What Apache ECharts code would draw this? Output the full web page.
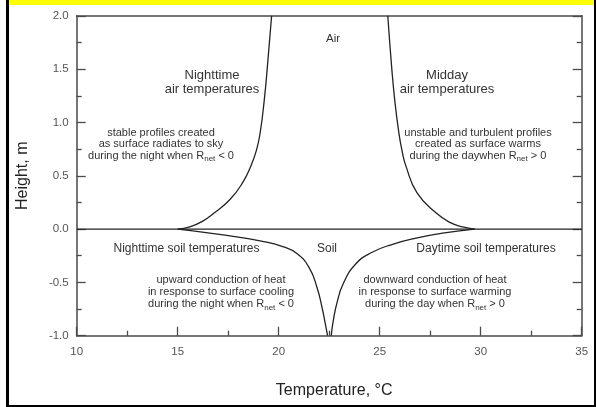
<!DOCTYPE html>
<html>
<head>
<meta charset="utf-8">
<script src="https://cdn.jsdelivr.net/npm/echarts@6/dist/echarts.min.js"></script>
<style>
html,body{margin:0;padding:0;background:#fff;}
#c{width:596px;height:407px;}
</style>
</head>
<body>
<div id="c"></div>
<script>
// ---- data (temperature °C, height m) ----
var nightAir = [[15.0,0],[15.6,0.02],[16.2,0.07],[16.8,0.15],[17.6,0.28],[18.2,0.43],[18.62,0.59],[18.9,0.74],[19.08,0.9],[19.28,1.2],[19.43,1.5],[19.65,2.0]];
var middayAir = [[29.7,0],[29.1,0.02],[28.5,0.06],[27.8,0.15],[26.85,0.34],[26.3,0.59],[26.1,0.74],[25.95,0.9],[25.75,1.2],[25.6,1.5],[25.4,2.0]];
var nightSoil = [[15.0,0],[16.5,-0.035],[18.0,-0.075],[19.2,-0.115],[20.2,-0.165],[20.9,-0.23],[21.5,-0.36],[21.9,-0.55],[22.15,-0.74],[22.32,-0.9],[22.42,-1.0]];
var daySoil = [[22.6,-1.0],[22.7,-0.86],[22.9,-0.68],[23.2,-0.51],[23.8,-0.33],[24.6,-0.22],[25.6,-0.145],[26.8,-0.085],[28.2,-0.035],[29.7,0]];
var surfaceLine = [[10,0],[35,0]];
var xTicks = [10,15,20,25,30,35];
var yTicks = [-1.0,-0.5,0.0,0.5,1.0,1.5,2.0];
var xName = 'Temperature, °C';
var yName = 'Height, m';
var labels = {
  air: 'Air',
  soil: 'Soil',
  nightAir: ['Nighttime','air temperatures'],
  dayAir: ['Midday','air temperatures'],
  stable: ['stable profiles created','as surface radiates to sky','during the night when R'],
  unstable: ['unstable and turbulent profiles','created as surface warms','during the daywhen R'],
  nightSoil: 'Nighttime soil temperatures',
  daySoil: 'Daytime soil temperatures',
  upward: ['upward conduction of heat','in response to surface cooling','during the night when R'],
  downward: ['downward conduction of heat','in response to surface warming','during the day when R'],
  sub: 'net', lt: ' < 0', gt: ' > 0'
};

var FONT = 'Liberation Sans, Arial, Helvetica, sans-serif';
var TXT = '#333';
var AX = '#4a4a4a';

var chart = echarts.init(document.getElementById('c'), null, {renderer:'canvas'});

function block(lines, tail, cx, cy, fs, lh){
  var parts = [];
  for (var i=0;i<lines.length-1;i++) parts.push('{a|'+lines[i]+'}');
  var last = lines[lines.length-1];
  if (tail) parts.push('{a|'+last+'}{s|'+labels.sub+'}{a|'+tail+'}');
  else parts.push('{a|'+last+'}');
  return {
    type:'text', x:cx, y:cy, z:10,
    style:{
      text: parts.join('\n'),
      align:'center', verticalAlign:'middle',
      fill:TXT, font: fs+'px '+FONT,
      rich:{
        a:{fontSize:fs, fontFamily:FONT, fill:TXT, lineHeight:lh},
        s:{fontSize:fs-3, fontFamily:FONT, fill:TXT, lineHeight:lh, padding:[7,0,0,0]}
      }
    }
  };
}
function simple(t, cx, cy, fs){
  return {type:'text', x:cx, y:cy, z:10, style:{text:t, align:'center', verticalAlign:'middle', fill:TXT, font: fs+'px '+FONT}};
}

var lineStyle = {color:'#222', width:1.3};
function curve(d){
  return {type:'line', data:d, showSymbol:false, smooth:0.5, lineStyle:lineStyle, silent:true, animation:false, clip:true};
}

var option = {
  animation:false,
  grid:{left:76.7, right:14.3, top:15.8, bottom:71.3},
  xAxis:[{
    type:'value', min:10, max:35, interval:5, position:'bottom',
    name:xName, nameLocation:'middle', nameGap:47,
    nameTextStyle:{fontSize:16, color:'#222', fontFamily:FONT, padding:[0,0,0,10]},
    axisLine:{show:true, onZero:false, lineStyle:{color:AX, width:1.5}},
    axisTick:{show:true, inside:true, length:9, lineStyle:{color:AX, width:1.3}},
    minorTick:{show:true, splitNumber:2, length:5, lineStyle:{color:AX, width:1.3}},
    axisLabel:{color:'#555', fontSize:11.5, fontFamily:FONT, margin:10,
      formatter:function(v){return xTicks.indexOf(v)>=0? String(v):'';}},
    splitLine:{show:false}
  },{
    type:'value', min:10, max:35, interval:5, position:'top',
    axisLine:{show:true, onZero:false, lineStyle:{color:AX, width:1.5}},
    axisTick:{show:false}, axisLabel:{show:false}, splitLine:{show:false}
  }],
  yAxis:[{
    type:'value', min:-1, max:2, interval:0.5, position:'left',
    name:yName, nameLocation:'middle', nameGap:46,
    nameTextStyle:{fontSize:16, color:'#222', fontFamily:FONT},
    axisLine:{show:true, onZero:false, lineStyle:{color:AX, width:1.5}},
    axisTick:{show:true, inside:true, length:9, lineStyle:{color:AX, width:1.3}},
    minorTick:{show:true, splitNumber:2, length:5, lineStyle:{color:AX, width:1.3}},
    axisLabel:{color:'#555', fontSize:11.5, fontFamily:FONT, margin:8,
      formatter:function(v){return yTicks.indexOf(v)>=0? v.toFixed(1):'';}},
    splitLine:{show:false}
  },{
    type:'value', min:-1, max:2, interval:0.5, position:'right',
    axisLine:{show:true, onZero:false, lineStyle:{color:AX, width:1.5}},
    axisTick:{show:true, inside:true, length:9, lineStyle:{color:AX, width:1.3}},
    minorTick:{show:true, splitNumber:2, length:5, lineStyle:{color:AX, width:1.3}},
    axisLabel:{show:false}, splitLine:{show:false}
  }],
  series:[
    curve(surfaceLine),
    curve(nightAir),
    curve(middayAir),
    curve(nightSoil),
    curve(daySoil)
  ],
  graphic:[
    {type:'rect', shape:{x:9,y:0,width:585,height:5}, style:{fill:'#ffff00'}, z:20},
    {type:'rect', shape:{x:6,y:0,width:3,height:407}, style:{fill:'#000'}, z:20},
    {type:'rect', shape:{x:594,y:0,width:2,height:407}, style:{fill:'#000'}, z:20},
    {type:'rect', shape:{x:6,y:405,width:590,height:2}, style:{fill:'#000'}, z:20},
    simple(labels.air, 333, 39, 11.5),
    block(labels.nightAir, null, 212, 82, 13, 14),
    block(labels.dayAir, null, 447, 82, 13, 14),
    block(labels.stable, labels.lt, 161, 144, 11, 11.5),
    block(labels.unstable, labels.gt, 478, 144, 11, 11.5),
    simple(labels.nightSoil, 186.5, 249, 12),
    simple(labels.soil, 327, 249, 12),
    simple(labels.daySoil, 486, 249, 12),
    block(labels.upward, labels.lt, 221, 292, 11, 12),
    block(labels.downward, labels.gt, 435, 292, 11, 12)
  ]
};
chart.setOption(option);
</script>
</body>
</html>
